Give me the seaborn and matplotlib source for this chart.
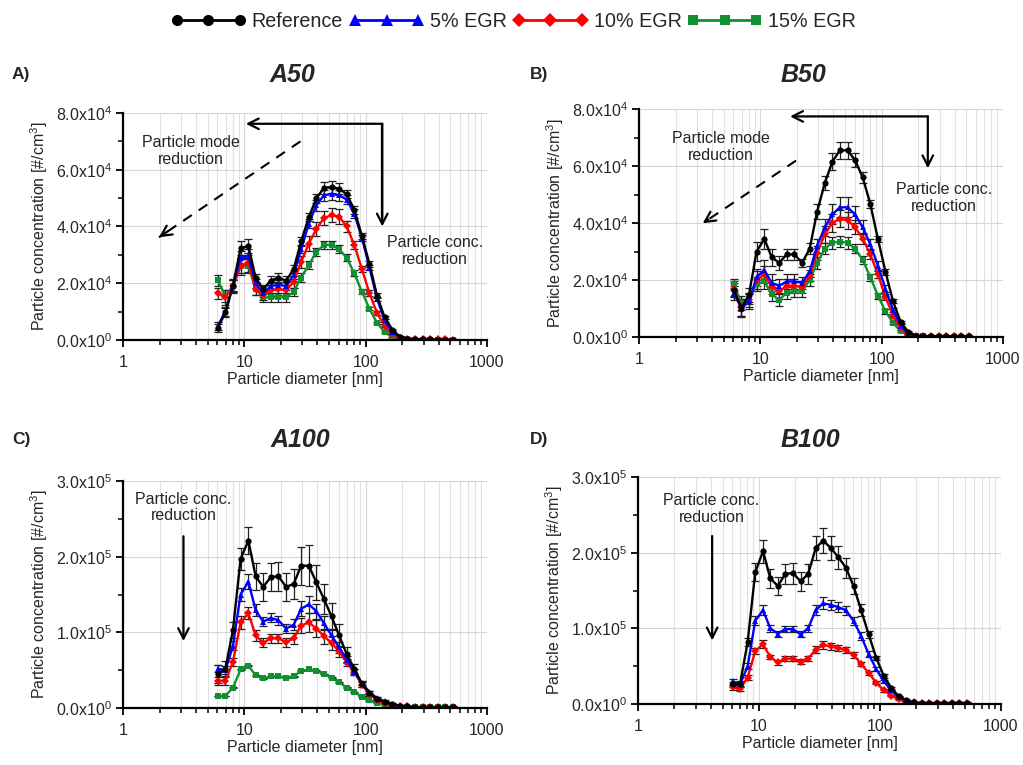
import matplotlib
matplotlib.use("Agg")
import matplotlib.pyplot as plt
import numpy as np
import pandas as pd
import seaborn as sns
from matplotlib.lines import Line2D
from matplotlib.ticker import FixedLocator, FixedFormatter, NullFormatter, LogLocator

# ---------------- data ----------------
diameter_nm = [6.04, 6.98, 8.06, 9.31, 10.8, 12.4, 14.3, 16.5, 19.1, 22.1, 25.5, 29.4,
               34.0, 39.2, 45.3, 52.3, 60.4, 69.8, 80.6, 93.1, 107.5, 124.1, 143.3,
               165.5, 191.1, 220.7, 254.8, 294.3, 339.8, 392.4, 453.2, 523.3]

series_names = ["Reference", "5% EGR", "10% EGR", "15% EGR"]

# A50 (units of 1e4 #/cm3)
a50_ref = [0.42, 0.97, 1.92, 3.23, 3.31, 2.19, 1.78, 2.09, 2.2, 2.09, 2.5, 3.48, 4.33, 4.99, 5.36, 5.39, 5.33, 5.14, 4.59, 3.67, 2.68, 1.56, 0.8, 0.37, 0.12, 0.05, 0.03, 0.02, 0.02, 0.01, 0.01, 0.01]
a50_5 = [0.5, 1.0, 1.9, 2.9, 2.95, 2.0, 1.65, 1.9, 1.95, 1.9, 2.3, 3.2, 4.1, 4.75, 5.1, 5.15, 5.1, 4.95, 4.45, 3.6, 2.55, 1.45, 0.7, 0.28, 0.1, 0.04, 0.03, 0.02, 0.01, 0.01, 0.01, 0.01]
a50_10 = [1.65, 1.5, 1.9, 2.6, 2.7, 1.8, 1.6, 1.75, 1.8, 1.75, 2.05, 2.75, 3.4, 3.9, 4.3, 4.4, 4.35, 4.0, 3.35, 2.5, 1.65, 0.95, 0.5, 0.2, 0.07, 0.04, 0.03, 0.03, 0.02, 0.02, 0.02, 0.01]
a50_15 = [2.1, 1.55, 1.9, 2.6, 2.6, 1.8, 1.5, 1.5, 1.5, 1.5, 1.7, 2.2, 2.65, 3.1, 3.35, 3.35, 3.2, 2.9, 2.35, 1.7, 1.1, 0.6, 0.28, 0.1, 0.04, 0.02, 0.01, 0.01, 0.01, 0.01, 0.01, 0.01]
a50_ref_err = [0.15, 0.15, 0.2, 0.25, 0.25, 0.15, 0.15, 0.15, 0.15, 0.15, 0.15, 0.15, 0.15, 0.15, 0.2, 0.2, 0.2, 0.15, 0.15, 0.1, 0.1, 0.08, 0.05, 0.03, 0.02, 0.01, 0.01, 0.01, 0.01, 0.01, 0.01, 0.01]
a50_5_err = [0.15, 0.15, 0.2, 0.25, 0.25, 0.15, 0.15, 0.15, 0.15, 0.15, 0.15, 0.15, 0.15, 0.2, 0.2, 0.2, 0.2, 0.15, 0.15, 0.1, 0.1, 0.08, 0.05, 0.03, 0.02, 0.01, 0.01, 0.01, 0.01, 0.01, 0.01, 0.01]
a50_10_err = [0.2, 0.25, 0.25, 0.3, 0.3, 0.2, 0.2, 0.2, 0.2, 0.2, 0.2, 0.2, 0.25, 0.25, 0.25, 0.25, 0.25, 0.2, 0.15, 0.12, 0.1, 0.08, 0.05, 0.03, 0.02, 0.01, 0.01, 0.01, 0.01, 0.01, 0.01, 0.01]
a50_15_err = [0.2, 0.2, 0.2, 0.25, 0.25, 0.2, 0.15, 0.15, 0.15, 0.15, 0.15, 0.15, 0.15, 0.15, 0.15, 0.15, 0.15, 0.12, 0.1, 0.08, 0.06, 0.05, 0.03, 0.02, 0.01, 0.01, 0.01, 0.01, 0.01, 0.01, 0.01, 0.01]

# B50 (units of 1e4 #/cm3)
b50_ref = [1.64, 1.03, 1.47, 3.0, 3.44, 2.8, 2.6, 2.9, 2.9, 2.6, 3.1, 4.4, 5.4, 6.15, 6.55, 6.55, 6.2, 5.6, 4.67, 3.44, 2.29, 1.25, 0.53, 0.18, 0.05, 0.04, 0.03, 0.03, 0.02, 0.02, 0.02, 0.02]
b50_5 = [1.55, 1.0, 1.25, 2.1, 2.35, 1.9, 1.8, 1.95, 1.95, 1.9, 2.3, 3.2, 3.85, 4.3, 4.55, 4.55, 4.3, 3.85, 3.25, 2.5, 1.7, 0.95, 0.4, 0.12, 0.04, 0.02, 0.01, 0.01, 0.01, 0.01, 0.01, 0.01]
b50_10 = [1.7, 1.05, 1.3, 2.0, 2.2, 1.75, 1.6, 1.8, 1.8, 1.75, 2.15, 2.95, 3.6, 4.0, 4.15, 4.1, 3.85, 3.45, 2.9, 2.2, 1.4, 0.75, 0.3, 0.1, 0.04, 0.03, 0.03, 0.02, 0.02, 0.02, 0.02, 0.02]
b50_15 = [1.85, 1.2, 1.35, 1.85, 1.95, 1.5, 1.3, 1.55, 1.6, 1.6, 2.0, 2.6, 3.1, 3.3, 3.35, 3.3, 3.1, 2.7, 2.1, 1.45, 0.9, 0.5, 0.2, 0.07, 0.03, 0.02, 0.01, 0.01, 0.01, 0.01, 0.01, 0.01]
b50_ref_err = [0.25, 0.3, 0.25, 0.35, 0.35, 0.3, 0.25, 0.2, 0.2, 0.15, 0.2, 0.25, 0.25, 0.3, 0.3, 0.3, 0.25, 0.2, 0.15, 0.12, 0.1, 0.07, 0.04, 0.02, 0.01, 0.01, 0.01, 0.01, 0.01, 0.01, 0.01, 0.01]
b50_5_err = [0.25, 0.3, 0.25, 0.3, 0.35, 0.3, 0.25, 0.25, 0.25, 0.2, 0.2, 0.25, 0.3, 0.35, 0.35, 0.35, 0.3, 0.25, 0.2, 0.15, 0.12, 0.08, 0.04, 0.02, 0.01, 0.01, 0.01, 0.01, 0.01, 0.01, 0.01, 0.01]
b50_10_err = [0.25, 0.3, 0.25, 0.3, 0.3, 0.25, 0.25, 0.25, 0.25, 0.2, 0.2, 0.25, 0.3, 0.3, 0.3, 0.3, 0.25, 0.2, 0.18, 0.12, 0.1, 0.07, 0.04, 0.02, 0.01, 0.01, 0.01, 0.01, 0.01, 0.01, 0.01, 0.01]
b50_15_err = [0.2, 0.25, 0.2, 0.25, 0.25, 0.25, 0.2, 0.2, 0.2, 0.2, 0.2, 0.2, 0.2, 0.2, 0.2, 0.2, 0.15, 0.15, 0.12, 0.1, 0.08, 0.05, 0.03, 0.02, 0.01, 0.01, 0.01, 0.01, 0.01, 0.01, 0.01, 0.01]

# A100 (units of 1e5 #/cm3)
a100_ref = [0.45, 0.52, 1.03, 1.97, 2.21, 1.74, 1.6, 1.73, 1.74, 1.6, 1.64, 1.88, 1.88, 1.66, 1.44, 1.21, 0.96, 0.71, 0.52, 0.32, 0.2, 0.12, 0.08, 0.05, 0.03, 0.02, 0.01, 0.01, 0.01, 0.01, 0.01, 0.01]
a100_5 = [0.52, 0.5, 0.82, 1.5, 1.67, 1.29, 1.14, 1.19, 1.16, 1.05, 1.1, 1.31, 1.37, 1.28, 1.12, 0.96, 0.8, 0.64, 0.48, 0.33, 0.21, 0.13, 0.09, 0.05, 0.03, 0.02, 0.01, 0.01, 0.01, 0.01, 0.01, 0.01]
a100_10 = [0.36, 0.36, 0.61, 1.13, 1.25, 0.96, 0.86, 0.92, 0.92, 0.87, 0.92, 1.09, 1.13, 1.05, 0.95, 0.86, 0.75, 0.6, 0.47, 0.31, 0.18, 0.1, 0.06, 0.03, 0.02, 0.02, 0.01, 0.01, 0.01, 0.01, 0.01, 0.01]
a100_15 = [0.16, 0.16, 0.27, 0.51, 0.56, 0.43, 0.39, 0.42, 0.42, 0.4, 0.42, 0.49, 0.51, 0.49, 0.45, 0.4, 0.34, 0.27, 0.21, 0.15, 0.1, 0.07, 0.04, 0.02, 0.01, 0.01, 0.01, 0.01, 0.01, 0.01, 0.01, 0.01]
a100_ref_err = [0.12, 0.1, 0.1, 0.15, 0.18, 0.18, 0.18, 0.19, 0.19, 0.19, 0.2, 0.25, 0.27, 0.23, 0.2, 0.18, 0.15, 0.1, 0.06, 0.04, 0.03, 0.02, 0.01, 0.01, 0.01, 0.01, 0.01, 0.01, 0.01, 0.01, 0.01, 0.01]
a100_5_err = [0.05, 0.05, 0.06, 0.08, 0.1, 0.08, 0.06, 0.06, 0.06, 0.06, 0.07, 0.1, 0.11, 0.1, 0.09, 0.08, 0.07, 0.05, 0.04, 0.03, 0.02, 0.01, 0.01, 0.01, 0.01, 0.01, 0.01, 0.01, 0.01, 0.01, 0.01, 0.01]
a100_10_err = [0.05, 0.05, 0.05, 0.08, 0.08, 0.07, 0.06, 0.06, 0.06, 0.06, 0.07, 0.1, 0.12, 0.11, 0.1, 0.09, 0.07, 0.05, 0.04, 0.03, 0.02, 0.01, 0.01, 0.01, 0.01, 0.01, 0.01, 0.01, 0.01, 0.01, 0.01, 0.01]
a100_15_err = [0.005, 0.005, 0.005, 0.008, 0.008, 0.006, 0.005, 0.005, 0.005, 0.005, 0.005, 0.006, 0.006, 0.006, 0.005, 0.005, 0.005, 0.005, 0.005, 0.005, 0.005, 0.005, 0.005, 0.005, 0.005, 0.005, 0.005, 0.005, 0.005, 0.005, 0.005, 0.005]

# B100 (units of 1e5 #/cm3)
b100_ref = [0.26, 0.27, 0.82, 1.74, 2.02, 1.66, 1.56, 1.72, 1.73, 1.62, 1.72, 2.06, 2.16, 2.06, 1.94, 1.8, 1.56, 1.24, 0.92, 0.61, 0.37, 0.21, 0.1, 0.05, 0.02, 0.01, 0.01, 0.01, 0.01, 0.01, 0.01, 0.01]
b100_5 = [0.3, 0.26, 0.5, 1.1, 1.24, 1.0, 0.93, 0.99, 0.99, 0.92, 1.0, 1.24, 1.33, 1.31, 1.28, 1.24, 1.1, 0.9, 0.66, 0.46, 0.3, 0.18, 0.09, 0.04, 0.02, 0.01, 0.01, 0.01, 0.01, 0.01, 0.01, 0.01]
b100_10 = [0.22, 0.2, 0.35, 0.7, 0.79, 0.62, 0.55, 0.6, 0.6, 0.56, 0.6, 0.72, 0.78, 0.76, 0.74, 0.71, 0.65, 0.53, 0.41, 0.28, 0.18, 0.11, 0.06, 0.03, 0.02, 0.01, 0.01, 0.01, 0.01, 0.01, 0.01, 0.01]
b100_ref_err = [0.03, 0.03, 0.05, 0.12, 0.15, 0.13, 0.12, 0.13, 0.14, 0.13, 0.13, 0.16, 0.17, 0.16, 0.15, 0.13, 0.1, 0.08, 0.05, 0.03, 0.02, 0.01, 0.01, 0.01, 0.01, 0.01, 0.01, 0.01, 0.01, 0.01, 0.01, 0.01]
b100_5_err = [0.03, 0.03, 0.04, 0.06, 0.07, 0.05, 0.04, 0.04, 0.04, 0.04, 0.05, 0.07, 0.08, 0.07, 0.07, 0.06, 0.05, 0.05, 0.04, 0.03, 0.02, 0.01, 0.01, 0.01, 0.01, 0.01, 0.01, 0.01, 0.01, 0.01, 0.01, 0.01]
b100_10_err = [0.03, 0.03, 0.03, 0.04, 0.05, 0.03, 0.03, 0.03, 0.03, 0.03, 0.03, 0.04, 0.05, 0.05, 0.04, 0.04, 0.04, 0.03, 0.03, 0.02, 0.02, 0.01, 0.01, 0.01, 0.01, 0.01, 0.01, 0.01, 0.01, 0.01, 0.01, 0.01]

yticks_50 = [0, 2e4, 4e4, 6e4, 8e4]
yminor_50 = [1e4, 3e4, 5e4, 7e4]
ylabels_50 = [r"0.0x10$^{0}$", r"2.0x10$^{4}$", r"4.0x10$^{4}$", r"6.0x10$^{4}$", r"8.0x10$^{4}$"]
yticks_100 = [0, 1e5, 2e5, 3e5]
yminor_100 = [0.5e5, 1.5e5, 2.5e5]
ylabels_100 = [r"0.0x10$^{0}$", r"1.0x10$^{5}$", r"2.0x10$^{5}$", r"3.0x10$^{5}$"]
xticks = [1, 10, 100, 1000]
xticklabels = ["1", "10", "100", "1000"]

# ---------------- style ----------------
sns.set_style("white")
plt.rcParams["font.family"] = ["Liberation Sans", "DejaVu Sans"]
plt.rcParams["mathtext.fontset"] = "custom"
plt.rcParams["mathtext.rm"] = "Liberation Sans"
plt.rcParams["mathtext.default"] = "regular"

colors = {"Reference": "#000000", "5% EGR": "#0000ff", "10% EGR": "#ff0000", "15% EGR": "#109030"}
markers = {"Reference": "o", "5% EGR": "^", "10% EGR": "D", "15% EGR": "s"}
msizes = {"Reference": 4.5, "5% EGR": 5, "10% EGR": 4, "15% EGR": 4}

FW, FH = 1023, 765
fig = plt.figure(figsize=(FW / 100, FH / 100), dpi=100)


def px_axes(left, top, right, bottom):
    return fig.add_axes([left / FW, 1 - bottom / FH, (right - left) / FW, (bottom - top) / FH])


panels = [
    dict(name="A50", tag="A)", box=(123, 113, 487, 340), unit=1e4, ymax=8e4,
         yt=yticks_50, ym=yminor_50, yl=ylabels_50,
         data={"Reference": (a50_ref, a50_ref_err), "5% EGR": (a50_5, a50_5_err),
               "10% EGR": (a50_10, a50_10_err), "15% EGR": (a50_15, a50_15_err)},
         title_xy=(292, 75), tag_xy=(12, 75)),
    dict(name="B50", tag="B)", box=(639, 109, 1003, 337), unit=1e4, ymax=8e4,
         yt=yticks_50, ym=yminor_50, yl=ylabels_50,
         data={"Reference": (b50_ref, b50_ref_err), "5% EGR": (b50_5, b50_5_err),
               "10% EGR": (b50_10, b50_10_err), "15% EGR": (b50_15, b50_15_err)},
         title_xy=(803, 75), tag_xy=(530, 75)),
    dict(name="A100", tag="C)", box=(123, 481, 487, 708), unit=1e5, ymax=3e5,
         yt=yticks_100, ym=yminor_100, yl=ylabels_100,
         data={"Reference": (a100_ref, a100_ref_err), "5% EGR": (a100_5, a100_5_err),
               "10% EGR": (a100_10, a100_10_err), "15% EGR": (a100_15, a100_15_err)},
         title_xy=(300, 440), tag_xy=(12, 440)),
    dict(name="B100", tag="D)", box=(638, 477, 1001, 704), unit=1e5, ymax=3e5,
         yt=yticks_100, ym=yminor_100, yl=ylabels_100,
         data={"Reference": (b100_ref, b100_ref_err), "5% EGR": (b100_5, b100_5_err),
               "10% EGR": (b100_10, b100_10_err)},
         title_xy=(810, 440), tag_xy=(530, 440)),
]

axes = {}
for p in panels:
    ax = px_axes(*p["box"])
    axes[p["name"]] = ax
    rows = []
    for s, (vals, errs) in p["data"].items():
        for d, v, e in zip(diameter_nm, vals, errs):
            rows.append((s, d, v * p["unit"], e * p["unit"]))
    df = pd.DataFrame(rows, columns=["series", "d", "c", "err"])
    order = [s for s in ["15% EGR", "10% EGR", "5% EGR", "Reference"] if s in p["data"]]
    ax.set_xscale("log")
    for s in order:
        sub = df[df.series == s]
        ax.errorbar(sub.d, sub.c, yerr=sub.err, fmt="none", ecolor="#202020",
                    elinewidth=0.9, capsize=3.2, capthick=0.9, zorder=3)
    for i, s in enumerate(order):
        sub = df[df.series == s]
        sns.lineplot(data=sub, x="d", y="c", color=colors[s], marker=markers[s],
                     markersize=msizes[s], markeredgewidth=0, lw=1.7, ax=ax,
                     legend=False, errorbar=None, sort=False, zorder=4 + i)
    ax.set_xlim(1, 1000)
    ax.set_ylim(0, p["ymax"])
    ax.xaxis.set_major_locator(FixedLocator(xticks))
    ax.xaxis.set_major_formatter(FixedFormatter(xticklabels))
    ax.xaxis.set_minor_locator(LogLocator(base=10, subs=range(2, 10)))
    ax.xaxis.set_minor_formatter(NullFormatter())
    ax.yaxis.set_major_locator(FixedLocator(p["yt"]))
    ax.yaxis.set_major_formatter(FixedFormatter(p["yl"]))
    ax.yaxis.set_minor_locator(FixedLocator(p["ym"]))
    ax.grid(which="major", color="#d6d6d6", lw=0.8)
    ax.grid(which="minor", axis="x", color="#e0e0e0", lw=0.8)
    ax.set_axisbelow(True)
    for sp in ["top", "right"]:
        ax.spines[sp].set_visible(False)
    for sp in ["left", "bottom"]:
        ax.spines[sp].set_color("black")
        ax.spines[sp].set_linewidth(1.6)
        ax.spines[sp].set_zorder(10)
    ax.tick_params(which="major", direction="out", length=5, width=1.3, color="black",
                   labelsize=11.5, pad=3, left=True, bottom=True)
    ax.tick_params(which="minor", direction="out", length=3.5, width=1.1, color="black",
                   left=True, bottom=True)
    ax.tick_params(axis="x", which="major", pad=6)
    ax.set_xlabel("Particle diameter [nm]", fontsize=11.5, labelpad=1)
    ax.set_ylabel(r"Particle concentration [#/cm$^{3}$]", fontsize=11.5, labelpad=4)
    fig.text(p["title_xy"][0] / FW, 1 - p["title_xy"][1] / FH, p["name"], fontsize=18,
             fontweight="bold", fontstyle="italic", ha="center", va="center")
    fig.text(p["tag_xy"][0] / FW, 1 - p["tag_xy"][1] / FH, p["tag"], fontsize=12.5,
             fontweight="bold", ha="left", va="center")

# ---------------- annotations ----------------
solid = dict(arrowstyle="->,head_length=0.75,head_width=0.38", lw=1.6, color="black",
             shrinkA=0, shrinkB=0)
txt = dict(fontsize=11.5, ha="center", va="center", linespacing=1.15)


def dashed_arrow(ax, start, end):
    ax.plot([start[0], end[0]], [start[1], end[1]], color="black", lw=1.5,
            linestyle=(0, (5, 4)))
    # short solid piece carrying the arrowhead
    lx0, ly0 = np.log10(start[0]), start[1]
    lx1, ly1 = np.log10(end[0]), end[1]
    f = 0.06
    mid = (10 ** (lx1 + (lx0 - lx1) * f), ly1 + (ly0 - ly1) * f)
    ax.annotate("", xy=end, xytext=mid, arrowprops=solid)


ax = axes["A50"]
ax.plot([137, 137], [7.62e4, 4.3e4], color="black", lw=1.6)
ax.annotate("", xy=(10.3, 7.62e4), xytext=(137, 7.62e4), arrowprops=solid)
ax.annotate("", xy=(137, 4.0e4), xytext=(137, 7.62e4), arrowprops=solid)
dashed_arrow(ax, (29, 7.0e4), (1.98, 3.62e4))
ax.text(3.65, 6.65e4, "Particle mode\nreduction", **txt)
ax.text(371, 3.15e4, "Particle conc.\nreduction", **txt)

ax = axes["B50"]
ax.annotate("", xy=(17.6, 7.74e4), xytext=(240, 7.74e4), arrowprops=solid)
ax.annotate("", xy=(240, 5.92e4), xytext=(240, 7.74e4), arrowprops=solid)
dashed_arrow(ax, (19.7, 6.19e4), (3.35, 3.99e4))
ax.text(4.75, 6.66e4, "Particle mode\nreduction", **txt)
ax.text(328, 4.87e4, "Particle conc.\nreduction", **txt)

ax = axes["A100"]
ax.annotate("", xy=(3.15, 0.885e5), xytext=(3.15, 2.27e5), arrowprops=solid)
ax.text(3.15, 2.65e5, "Particle conc.\nreduction", **txt)

ax = axes["B100"]
ax.annotate("", xy=(4.1, 0.84e5), xytext=(4.1, 2.22e5), arrowprops=solid)
ax.text(4.05, 2.58e5, "Particle conc.\nreduction", **txt)

# ---------------- legend ----------------
handles = [Line2D([], [], color=colors[s], marker=markers[s], lw=2,
                  markersize=msizes[s] + 3.5, markeredgewidth=0) for s in series_names]
fig.legend(handles, series_names, loc="upper center", bbox_to_anchor=(0.502, 1.008),
           ncol=4, frameon=False, numpoints=3, handlelength=3.8, handletextpad=0.3,
           columnspacing=0.3, fontsize=14.2)

fig.savefig("out.png", dpi=100)
